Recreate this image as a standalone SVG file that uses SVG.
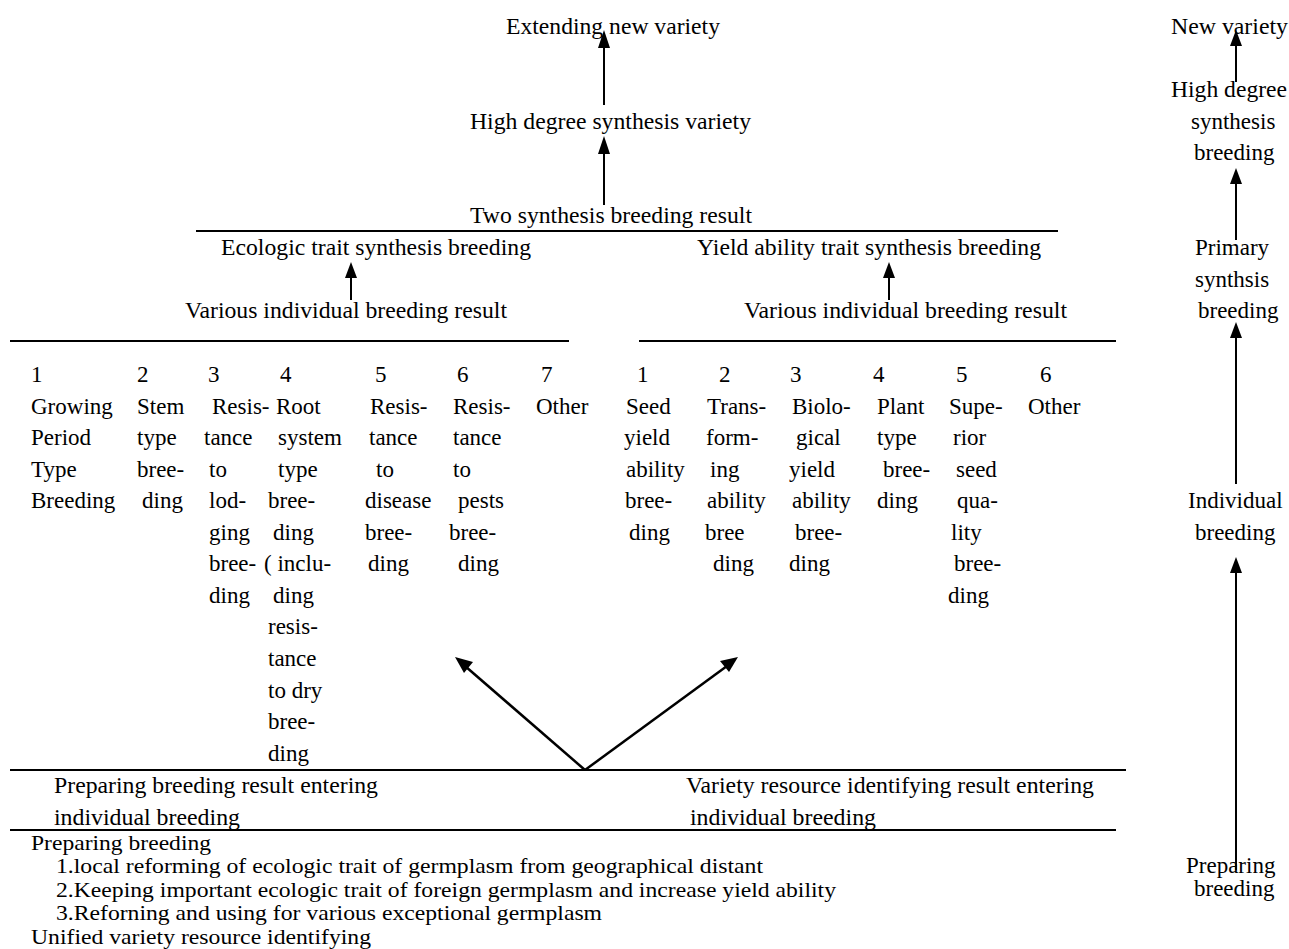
<svg xmlns="http://www.w3.org/2000/svg" width="1289" height="949" viewBox="0 0 1289 949" font-family="Liberation Serif, serif" font-size="23">
<style>
text{font-family:"Liberation Serif",serif;font-size:23px;fill:#000}
.s{font-size:22px}
.ln{stroke:#000;stroke-width:2;fill:none}
</style>

<g id="connectors">
<line class="ln" x1="604" y1="105" x2="604" y2="48" />
<path d="M604 30 L598 48 L610 48 Z"/>
<line class="ln" x1="604" y1="205" x2="604" y2="154"/>
<path d="M604 136 L598 154 L610 154 Z"/>
<line class="ln" x1="351" y1="300" x2="351" y2="278"/>
<path d="M351 262 L345 278 L357 278 Z"/>
<line class="ln" x1="889" y1="300" x2="889" y2="278"/>
<path d="M889 262 L883 278 L895 278 Z"/>
<line x1="585" y1="770" x2="465" y2="666" stroke="#000" stroke-width="2.5"/>
<path d="M455 657 L473 662 L464 673 Z"/>
<line x1="585" y1="770" x2="727" y2="666" stroke="#000" stroke-width="2.5"/>
<path d="M738 657 L720 661 L729 672 Z"/>
<line class="ln" x1="1236" y1="82" x2="1236" y2="46"/>
<path d="M1236 30 L1230 46 L1242 46 Z"/>
<line class="ln" x1="1236" y1="240" x2="1236" y2="184"/>
<path d="M1236 168 L1230 184 L1242 184 Z"/>
<line class="ln" x1="1236" y1="484" x2="1236" y2="338"/>
<path d="M1236 322 L1230 338 L1242 338 Z"/>
<line class="ln" x1="1236" y1="870" x2="1236" y2="573"/>
<path d="M1236 557 L1230 573 L1242 573 Z"/>
</g>

<g id="rules">
<line class="ln" x1="196" y1="231" x2="1058" y2="231"/>
<line class="ln" x1="10" y1="341" x2="569" y2="341"/>
<line class="ln" x1="639" y1="341" x2="1116" y2="341"/>
<line class="ln" x1="10" y1="770" x2="1126" y2="770"/>
<line class="ln" x1="10" y1="830" x2="1116" y2="830"/>
</g>

<g id="n-extending"><text x="506" y="34" textLength="214" lengthAdjust="spacingAndGlyphs">Extending new variety</text></g>
<g id="n-highdegree"><text x="470" y="129" textLength="281" lengthAdjust="spacingAndGlyphs">High degree synthesis variety</text></g>
<g id="n-two"><text x="470" y="223" textLength="282" lengthAdjust="spacingAndGlyphs">Two synthesis breeding result</text></g>
<g id="n-ecologic"><text x="221" y="255" textLength="310" lengthAdjust="spacingAndGlyphs">Ecologic trait synthesis breeding</text></g>
<g id="n-yield"><text x="697" y="255" textLength="344" lengthAdjust="spacingAndGlyphs">Yield ability trait synthesis breeding</text></g>
<g id="n-various-left"><text x="185" y="318" textLength="322" lengthAdjust="spacingAndGlyphs">Various individual breeding result</text></g>
<g id="n-various-right"><text x="744" y="318" textLength="323" lengthAdjust="spacingAndGlyphs">Various individual breeding result</text></g>

<g id="n-eco-1"><text x="31" y="382">1</text><text x="31" y="414">Growing</text><text x="31" y="445">Period</text><text x="31" y="477">Type</text><text x="31" y="508">Breeding</text></g>
<g id="n-eco-2"><text x="137" y="382">2</text><text x="137" y="414">Stem</text><text x="137" y="445">type</text><text x="137" y="477">bree-</text><text x="142" y="508">ding</text></g>
<g id="n-eco-3"><text x="208" y="382">3</text><text x="212" y="414">Resis-</text><text x="204" y="445">tance</text><text x="209" y="477">to</text><text x="209" y="508">lod-</text><text x="209" y="540">ging</text><text x="209" y="571">bree-</text><text x="209" y="603">ding</text></g>
<g id="n-eco-4"><text x="280" y="382">4</text><text x="276" y="414">Root</text><text x="278" y="445">system</text><text x="278" y="477">type</text><text x="268" y="508">bree-</text><text x="273" y="540">ding</text><text x="264" y="571">( inclu-</text><text x="273" y="603">ding</text><text x="268" y="634">resis-</text><text x="268" y="666">tance</text><text x="268" y="698">to dry</text><text x="268" y="729">bree-</text><text x="268" y="761">ding</text></g>
<g id="n-eco-5"><text x="375" y="382">5</text><text x="370" y="414">Resis-</text><text x="369" y="445">tance</text><text x="376" y="477">to</text><text x="365" y="508">disease</text><text x="365" y="540">bree-</text><text x="368" y="571">ding</text></g>
<g id="n-eco-6"><text x="457" y="382">6</text><text x="453" y="414">Resis-</text><text x="453" y="445">tance</text><text x="453" y="477">to</text><text x="458" y="508">pests</text><text x="449" y="540">bree-</text><text x="458" y="571">ding</text></g>
<g id="n-eco-7"><text x="541" y="382">7</text><text x="536" y="414">Other</text></g>

<g id="n-yld-1"><text x="637" y="382">1</text><text x="626" y="414">Seed</text><text x="624" y="445">yield</text><text x="626" y="477">ability</text><text x="625" y="508">bree-</text><text x="629" y="540">ding</text></g>
<g id="n-yld-2"><text x="719" y="382">2</text><text x="707" y="414">Trans-</text><text x="706" y="445">form-</text><text x="710" y="477">ing</text><text x="707" y="508">ability</text><text x="705" y="540">bree</text><text x="713" y="571">ding</text></g>
<g id="n-yld-3"><text x="790" y="382">3</text><text x="792" y="414">Biolo-</text><text x="796" y="445">gical</text><text x="789" y="477">yield</text><text x="792" y="508">ability</text><text x="795" y="540">bree-</text><text x="789" y="571">ding</text></g>
<g id="n-yld-4"><text x="873" y="382">4</text><text x="877" y="414">Plant</text><text x="877" y="445">type</text><text x="883" y="477">bree-</text><text x="877" y="508">ding</text></g>
<g id="n-yld-5"><text x="956" y="382">5</text><text x="949" y="414">Supe-</text><text x="953" y="445">rior</text><text x="956" y="477">seed</text><text x="957" y="508">qua-</text><text x="951" y="540">lity</text><text x="954" y="571">bree-</text><text x="948" y="603">ding</text></g>
<g id="n-yld-6"><text x="1040" y="382">6</text><text x="1028" y="414">Other</text></g>

<g id="n-prep-result"><text x="54" y="793" textLength="324" lengthAdjust="spacingAndGlyphs">Preparing breeding result entering</text><text x="54" y="825" textLength="186" lengthAdjust="spacingAndGlyphs">individual breeding</text></g>
<g id="n-variety-result"><text x="686" y="793" textLength="408" lengthAdjust="spacingAndGlyphs">Variety resource identifying result entering</text><text x="690" y="825" textLength="186" lengthAdjust="spacingAndGlyphs">individual breeding</text></g>

<g id="n-prep-breeding">
<text class="s" x="31" y="850" textLength="180" lengthAdjust="spacingAndGlyphs">Preparing breeding</text>
<text class="s" x="56" y="873" textLength="707" lengthAdjust="spacingAndGlyphs">1.local reforming of ecologic trait of germplasm from geographical distant</text>
<text class="s" x="56" y="897" textLength="780" lengthAdjust="spacingAndGlyphs">2.Keeping important ecologic trait of foreign germplasm and increase yield ability</text>
<text class="s" x="56" y="920" textLength="546" lengthAdjust="spacingAndGlyphs">3.Reforning and using for various exceptional germplasm</text>
<text class="s" x="31" y="944" textLength="340" lengthAdjust="spacingAndGlyphs">Unified variety resource identifying</text>
</g>

<g id="n-r-newvariety"><text x="1171" y="34" textLength="117" lengthAdjust="spacingAndGlyphs">New variety</text></g>
<g id="n-r-highdegree"><text x="1171" y="97" textLength="116" lengthAdjust="spacingAndGlyphs">High degree</text><text x="1191" y="129">synthesis</text><text x="1194" y="160">breeding</text></g>
<g id="n-r-primary"><text x="1195" y="255">Primary</text><text x="1195" y="287">synthsis</text><text x="1198" y="318">breeding</text></g>
<g id="n-r-individual"><text x="1188" y="508">Individual</text><text x="1195" y="540">breeding</text></g>
<g id="n-r-preparing"><text x="1186" y="873">Preparing</text><text x="1194" y="896">breeding</text></g>
</svg>
